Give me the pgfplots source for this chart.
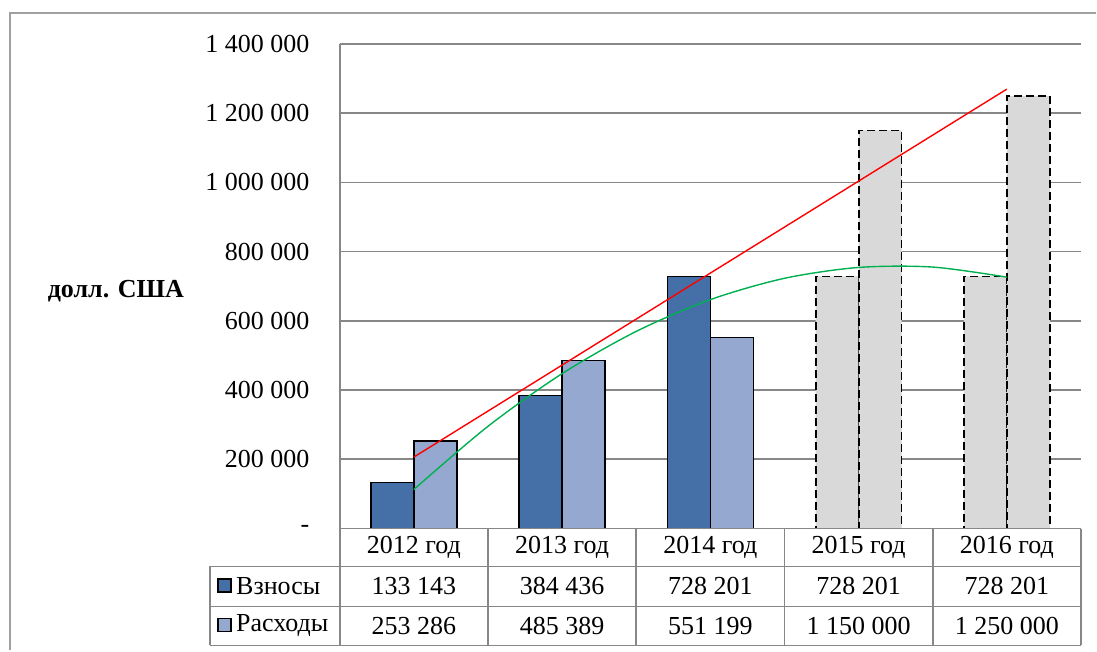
\documentclass[border=0pt]{standalone}
\usepackage{fontspec}
\setmainfont{Liberation Serif}
\usepackage{pgfplots}
\pgfplotsset{compat=1.18}
\definecolor{vzn}{HTML}{4570A7}
\definecolor{ras}{HTML}{95A9D0}
\definecolor{grb}{HTML}{D9D9D9}
\definecolor{gl}{HTML}{878787}
\definecolor{frm}{HTML}{A0A0A0}
\definecolor{trg}{HTML}{00B050}
\begin{document}
\fontsize{13}{15.6}\selectfont
\begin{tikzpicture}[font=\fontsize{13}{15.6}\selectfont]
\begin{scope}[x=0.5pt,y=-0.5pt]
\useasboundingbox (0,0) rectangle (1097,651);
\end{scope}
\begin{axis}[at={(170pt,-264.5pt)}, anchor=south west, scale only axis,
  width=371pt, height=242.5pt,
  xmin=-0.5, xmax=4.5, ymin=0, ymax=1400000,
  xtick=\empty,
  ytick={0,200000,400000,600000,800000,1000000,1200000,1400000},
  yticklabels={-\hspace{7pt},200 000,400 000,600 000,800 000,1 000 000,1 200 000,1 400 000},
  scaled y ticks=false,
  yticklabel style={anchor=east, inner sep=0pt, xshift=-15pt},
  major tick length=0pt,
  axis line style={draw=none},
  ymajorgrids,
  grid style={gl, line width=0.85pt},
  clip=false,
]
\addplot[ybar, bar width=21.5pt, bar shift=-10.75pt, fill=vzn, draw=black, line width=0.75pt]
  coordinates {(0,133143) (1,384436) (2,728201)};
\addplot[ybar, bar width=21.5pt, bar shift=10.75pt, fill=ras, draw=black, line width=0.75pt]
  coordinates {(0,253286) (1,485389) (2,551199)};
\addplot[ybar, bar width=21.5pt, bar shift=-10.75pt, fill=grb, draw=black, line width=0.9pt, dash pattern=on 4pt off 2pt]
  coordinates {(3,728201) (4,728201)};
\addplot[ybar, bar width=21.5pt, bar shift=10.75pt, fill=grb, draw=black, line width=0.9pt, dash pattern=on 4pt off 2pt]
  coordinates {(3,1150000) (4,1250000)};
\addplot[red, line width=0.7pt] coordinates {(0,206367) (4,1269583)};
\addplot[trg, line width=0.7pt, smooth] coordinates {
  (0,112753) (0.5,295241) (1,447502) (1.5,569536) (2,661344)
  (2.5,722924) (3,754278) (3.5,755405) (4,726305)};
\end{axis}
\begin{scope}[x=0.5pt,y=-0.5pt]
\draw[frm, line width=1pt] (10.5,651) -- (10.5,13.5) -- (1097,13.5);
\begin{scope}[gl, line width=0.85pt]
\draw (340,44) -- (340,646);
\draw (340,529) -- (1082,529);
\draw (210,567) -- (1082,567);
\draw (210,607) -- (1082,607);
\draw (210,646) -- (1082,646);
\draw (210,567) -- (210,646);
\foreach \xx in {488.4,636.8,785.2,933.6,1082} \draw (\xx,529) -- (\xx,646);
\end{scope}
\node[font=\fontsize{13}{15.6}\selectfont\bfseries] at (116,291) {долл. США};
\foreach \i/\yr in {0/2012,1/2013,2/2014,3/2015,4/2016}
  \node at ({414.2+148.4*\i},548) {\yr\ год};
\foreach \i/\v in {0/133 143,1/384 436,2/728 201,3/728 201,4/728 201}
  \node at ({414.2+148.4*\i},587) {\v};
\foreach \i/\v in {0/253 286,1/485 389,2/551 199,3/1 150 000,4/1 250 000}
  \node at ({414.2+148.4*\i},626.5) {\v};
\draw[black, line width=0.9pt, fill=vzn] (218.5,579.5) rectangle (231.5,592.5);
\draw[black, line width=0.9pt, fill=ras] (218.5,619) rectangle (231.5,632);
\node[anchor=west, inner sep=0pt] at (236,587) {Взносы};
\node[anchor=west, inner sep=0pt] at (236,626.5) {Расходы};
\end{scope}
\end{tikzpicture}
\end{document}
